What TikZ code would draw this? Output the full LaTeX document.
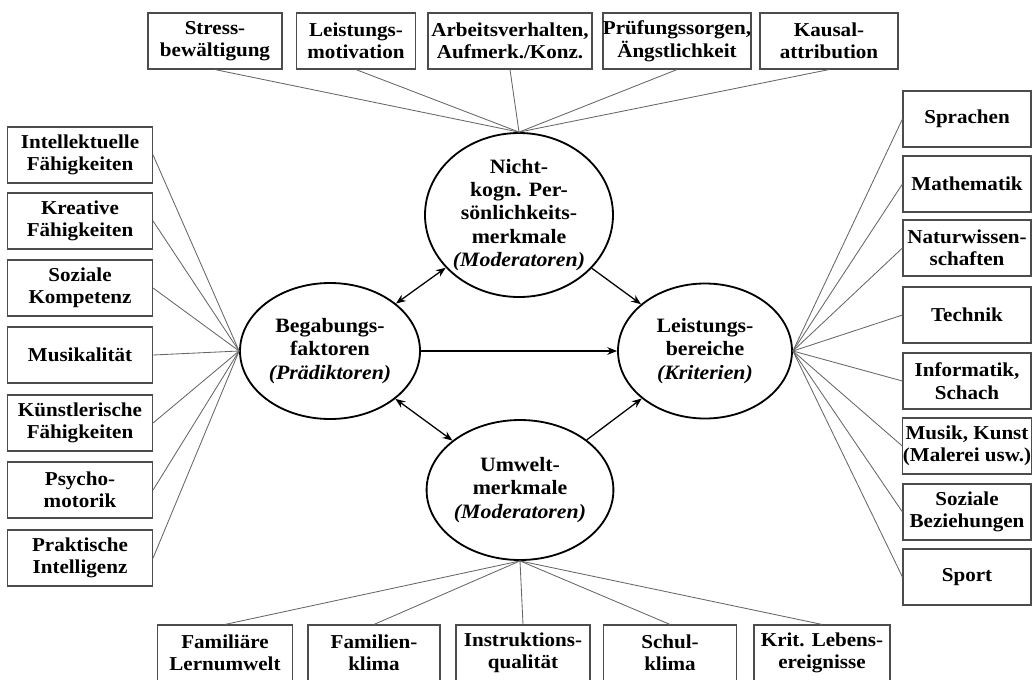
\documentclass[tikz,border=0pt]{standalone}
\usepackage{fontspec}
\setmainfont{Liberation Serif}[FakeStretch=1.07]
\usetikzlibrary{arrows.meta, shapes.geometric}
\tikzset{
  box/.style={draw=black!70, line width=0.8pt, inner sep=0pt, align=center,
    minimum height=1.4cm, minimum width=#1*0.025cm,
    font=\bfseries\fontsize{14}{16}\selectfont},
  blob/.style={ellipse, draw, line width=1.3pt, inner sep=0pt, align=center,
    font=\bfseries\fontsize{14.5}{16.5}\selectfont},
  spoke/.style={draw=black!60, line width=0.6pt},
  rel/.style={line width=0.9pt, -{Stealth[length=7pt,width=5.5pt]}},
  birel/.style={line width=0.9pt, {Stealth[length=7pt,width=5.5pt]}-{Stealth[length=7pt,width=5.5pt]}}
}

\begin{document}
\begin{tikzpicture}[x=0.025cm, y=-0.025cm]
\useasboundingbox (0,0) rectangle (1032,679);
\clip (0,0) rectangle (1032,679);

% the four constructs
\node[blob, minimum width=188*0.025cm, minimum height=164*0.025cm] (nk) at (519,215)
  {Nicht-\\kogn. Per-\\sönlichkeits-\\merkmale\\\textit{(Moderatoren)}};
\node[blob, minimum width=180*0.025cm, minimum height=136*0.025cm] (bg) at (330,351)
  {Begabungs-\\faktoren\\\textit{(Prädiktoren)}};
\node[blob, minimum width=174*0.025cm, minimum height=135*0.025cm] (lb) at (705,351)
  {Leistungs-\\bereiche\\\textit{(Kriterien)}};
\node[blob, minimum width=184*0.025cm, minimum height=140*0.025cm] (um) at (520,490)
  {Umwelt-\\merkmale\\\textit{(Moderatoren)}};

\draw[birel] (bg) -- (nk);
\draw[rel] (nk) -- (lb);
\draw[rel] (bg.east) -- (lb.west);
\draw[birel] (bg) -- (um);
\draw[rel] (um) -- (lb);

% top row
\node[box=134] (t1) at (215,41) {Stress-\\bewältigung};
\node[box=119] (t2) at (356,41) {Leistungs-\\motivation};
\node[box=164] (t3) at (510,41) {Arbeitsverhalten,\\Aufmerk./Konz.};
\node[box=140] (t4) at (677,41) {Prüfungssorgen,\\Ängstlichkeit};
\node[box=138] (t5) at (829,41) {Kausal-\\attribution};
\foreach \n in {t1,t2,t3,t4,t5}
  \draw[spoke] (\n.south) -- (nk.north);

% left column
\node[box=145] (l1) at (80,155) {Intellektuelle\\Fähigkeiten};
\node[box=145] (l2) at (80,221) {Kreative\\Fähigkeiten};
\node[box=145] (l3) at (80,288) {Soziale\\Kompetenz};
\node[box=145] (l4) at (80,355) {Musikalität};
\node[box=145] (l5) at (80,423) {Künstlerische\\Fähigkeiten};
\node[box=145] (l6) at (80,490) {Psycho-\\motorik};
\node[box=145] (l7) at (80,558) {Praktische\\Intelligenz};
\foreach \n in {l1,l2,l3,l4,l5,l6,l7}
  \draw[spoke] (\n.east) -- (bg.west);

% right column
\node[box=128] (r1) at (967,119) {Sprachen};
\node[box=128] (r2) at (967,184) {Mathematik};
\node[box=128] (r3) at (967,248) {Naturwissen-\\schaften};
\node[box=128] (r4) at (967,315) {Technik};
\node[box=128] (r5) at (967,381) {Informatik,\\Schach};
\node[box=128] (r6) at (967,446) {Musik, Kunst\\(Malerei usw.)};
\node[box=128] (r7) at (967,512) {Soziale\\Beziehungen};
\node[box=128] (r8) at (967,577) {Sport};
\foreach \n in {r1,r2,r3,r4,r5,r6,r7,r8}
  \draw[spoke] (\n.west) -- (lb.east);

% bottom row
\node[box=135] (b1) at (225,653) {Familiäre\\Lernumwelt};
\node[box=132] (b2) at (374,653) {Familien-\\klima};
\node[box=134] (b3) at (523,653) {Instruktions-\\qualität};
\node[box=133] (b4) at (670,653) {Schul-\\klima};
\node[box=136] (b5) at (822,653) {Krit. Lebens-\\ereignisse};
\foreach \n in {b1,b2,b3,b4,b5}
  \draw[spoke] (\n.north) -- (um.south);
\end{tikzpicture}
\end{document}
